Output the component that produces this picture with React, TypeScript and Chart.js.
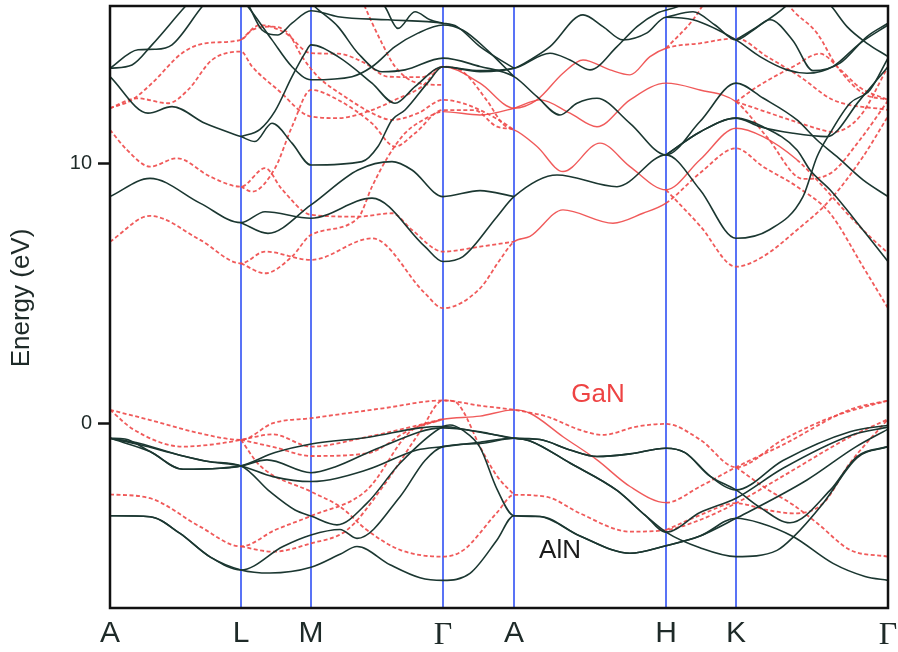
import React, { useEffect, useRef } from 'react';
import { Chart, registerables } from 'chart.js';

Chart.register(...registerables);

// High-symmetry points along the k-path (path length units)
const K_POS = [0, 131, 201, 333, 404, 556, 626, 778];
const K_LABELS = ['A', 'L', 'M', 'Γ', 'A', 'H', 'K', 'Γ'];
const Y_TICKS = [0, 10];
const Y_MIN = -7.06;
const Y_MAX = 16.03;
const Y_TITLE = 'Energy (eV)';

type P = [number, number];

// ---------- AlN (black, solid) ----------
const ALN_V1: P[] = [[0,-3.52],[40,-3.56],[70,-4.2],[100,-5.1],[131,-5.6],[160,-5.72],[201,-5.5],[230,-5.0],[247,-4.7],[280,-5.4],[310,-5.9],[333,-6.0],[360,-5.73],[387,-4.45],[404,-3.52],[430,-3.55],[470,-4.3],[520,-4.96],[556,-4.67],[590,-4.3],[626,-3.62],[650,-3.8],[683,-4.32],[723,-5.35],[755,-5.85],[778,-6.0]];
const ALN_V2: P[] = [[0,-3.52],[40,-3.56],[70,-4.2],[100,-5.1],[131,-5.6],[173,-4.7],[201,-4.26],[230,-4.05],[247,-4.39],[290,-2.79],[315,-1.4],[333,-0.87],[370,-0.75],[404,-0.55],[430,-0.6],[460,-1.0],[487,-1.25],[520,-1.15],[556,-0.93],[575,-1.1],[600,-2.0],[626,-2.53],[650,-3.2],[680,-3.79],[720,-2.55],[747,-1.25],[778,-0.87]];
const ALN_V3: P[] = [[0,-0.55],[15,-0.58],[40,-1.06],[73,-1.74],[110,-1.7],[131,-1.61],[165,-1.1],[201,-0.77],[260,-0.5],[310,-0.15],[333,-0.1],[360,-0.25],[404,-0.55],[420,-0.65],[460,-1.5],[507,-2.55],[535,-3.5],[556,-4.15],[590,-4.75],[626,-5.09],[667,-4.85],[683,-4.35],[713,-3.05],[747,-1.3],[778,-0.87]];
const ALN_V4: P[] = [[0,-0.55],[30,-0.75],[70,-1.2],[100,-1.45],[131,-1.61],[160,-2.6],[185,-3.3],[201,-3.53],[227,-3.87],[257,-3.04],[290,-1.51],[333,-0.1],[340,-0.04],[353,-0.25],[370,-0.9],[387,-2.5],[404,-3.52],[430,-3.55],[470,-4.3],[520,-4.96],[556,-4.67],[590,-4.3],[626,-3.62],[697,-2.15],[745,-0.9],[778,-0.2]];
const ALN_V5: P[] = [[0,-0.55],[40,-1.06],[73,-1.74],[110,-1.7],[131,-1.61],[157,-1.38],[201,-1.87],[225,-1.65],[270,-0.9],[333,-0.15],[370,-0.3],[404,-0.55],[430,-0.6],[460,-1.0],[487,-1.25],[520,-1.15],[556,-0.93],[575,-1.1],[600,-2.0],[626,-2.53],[673,-1.4],[740,-0.3],[778,-0.05]];
const ALN_V6: P[] = [[0,-0.55],[30,-0.8],[70,-1.2],[100,-1.45],[131,-1.61],[163,-2.02],[201,-2.21],[257,-1.76],[307,-1.0],[333,-0.87],[370,-0.7],[404,-0.55],[420,-0.65],[460,-1.5],[507,-2.55],[535,-3.5],[556,-4.15],[590,-3.4],[626,-2.85],[673,-1.7],[740,-0.45],[778,-0.12]];

const ALN_C1: P[] = [[0,8.72],[40,9.42],[90,8.47],[131,7.72],[155,8.14],[201,7.89],[262,8.66],[315,6.8],[333,6.23],[353,6.42],[387,7.95],[404,8.72],[447,9.55],[507,9.1],[556,10.32],[590,8.98],[626,7.12],[659,7.44],[693,8.72],[707,10.25],[720,11.15],[740,12.3],[760,12.81],[778,14.03]];
const ALN_C2: P[] = [[131,7.72],[158,7.31],[201,8.4],[248,9.74],[282,10.06],[302,9.74],[333,8.72],[370,8.95],[404,8.72]];
const ALN_C3: P[] = [[180,17.0],[205,16.0],[228,15.24],[248,14.22],[272,13.51],[295,13.58],[333,14.03],[370,13.71],[404,13.32],[427,12.55],[450,11.85],[467,12.3],[487,12.49],[520,11.53],[556,10.32],[590,11.6],[626,13.07],[653,12.5],[687,11.66],[707,10.89],[727,10.25],[753,9.36],[778,8.72]];
const ALN_C4: P[] = [[0,13.32],[38,11.92],[62,12.17],[95,11.53],[131,11.02],[145,10.83],[162,11.53],[182,10.77],[201,9.93],[252,10.06],[268,10.64],[282,11.66],[295,12.04],[318,13.1],[333,13.7],[370,13.55],[404,13.64],[440,14.22],[460,13.96],[480,13.58],[507,14.47],[527,15.24],[547,15.75],[570,16.05],[590,16.6]];
const ALN_C5: P[] = [[131,11.02],[150,11.3],[165,12.0],[182,13.32],[195,14.22],[201,14.54],[228,14.09],[262,13.07],[285,12.3],[305,12.94],[333,13.7],[370,13.51],[404,13.64],[420,13.96],[440,14.47],[473,15.69],[493,15.24],[513,14.73],[537,15.0],[556,15.6],[583,15.5],[626,14.73],[650,14.09],[677,13.58],[697,13.45],[723,13.71],[750,14.6],[778,15.3]];
const ALN_C6: P[] = [[0,13.64],[22,13.77],[42,14.54],[75,16.0],[105,17.2],[135,16.3],[152,15.11],[168,14.92],[182,15.37],[201,15.85],[228,15.62],[278,15.5],[333,15.37],[347,15.24],[370,14.47],[404,13.64]];
const ALN_C7: P[] = [[0,13.64],[28,14.35],[45,14.37],[62,14.54],[92,16.0],[115,17.0],[138,16.0],[162,14.73],[182,13.7],[201,13.2],[242,13.32],[262,13.7],[285,14.47],[308,14.99],[333,15.3],[353,15.1],[377,14.35],[404,13.32]];
const ALN_C8: P[] = [[556,15.6],[583,15.81],[605,15.3],[626,14.73],[643,15.1],[660,15.5],[683,14.7],[703,13.55],[730,13.84],[757,14.86],[778,15.37]];
const ALN_C9: P[] = [[556,10.32],[590,11.2],[626,11.73],[650,11.4],[683,11.15],[717,11.02],[750,12.43],[778,13.7]];
const ALN_C10: P[] = [[700,17.0],[723,15.94],[737,15.24],[757,14.6],[778,14.09]];
const ALN_C11: P[] = [[262,16.6],[275,16.0],[288,15.17],[305,15.81],[320,15.5],[333,15.37]];
const ALN_C12: P[] = [[626,14.73],[650,15.3],[675,16.0],[690,16.6]];
const ALN_C13: P[] = [[556,10.32],[590,11.2],[626,11.73],[653,11.4],[687,10.51],[700,9.74],[720,8.98],[753,7.44],[778,6.23]];

// ---------- GaN (red, mostly dashed) ----------
const GAN_V1: P[] = [[0,0.54],[40,0.15],[90,-0.36],[131,-0.61],[163,0.03],[201,0.22],[273,0.6],[333,0.9],[370,0.7],[404,0.54],[437,0.28],[470,-0.23],[493,-0.42],[527,-0.1],[556,0.0],[590,-0.6],[626,-1.66],[673,-0.6],[723,0.28],[778,0.9]];
const GAN_V2: P[] = [[0,0.54],[23,-0.2],[73,-0.87],[110,-0.75],[131,-0.61],[163,-0.4],[201,-0.87],[257,-0.5],[303,-0.1],[333,0.18],[370,0.3],[404,0.54],[420,0.41],[453,-0.49],[487,-1.38],[520,-2.4],[556,-3.02],[590,-2.4],[626,-1.66],[673,-0.8],[740,0.55],[778,0.9]];
const GAN_V3: P[] = [[131,-0.61],[165,-0.9],[201,-1.23],[257,-1.13],[300,-0.23],[333,0.18]];
const GAN_V4: P[] = [[131,-0.61],[150,-1.6],[201,-2.6],[230,-3.17],[257,-4.07],[290,-4.83],[333,-5.09],[353,-4.85],[387,-3.4],[404,-2.72],[437,-2.8],[470,-3.43],[520,-4.13],[556,-4.07],[590,-3.68],[626,-3.04],[673,-2.0],[740,-0.5],[778,0.18]];
const GAN_V5: P[] = [[0,-2.7],[40,-2.85],[90,-3.94],[131,-4.7],[165,-4.07],[201,-3.53],[257,-2.53],[300,-0.3],[333,0.18]];
const GAN_V6: P[] = [[131,-4.7],[163,-4.9],[201,-4.58],[237,-4.07],[273,-2.4],[310,-0.3],[333,0.9],[345,0.85],[353,0.5],[370,-0.87],[387,-2.0],[404,-2.72]];
const GAN_V7: P[] = [[626,-1.66],[657,-2.5],[683,-3.1],[707,-3.8],[740,-4.83],[778,-5.09]];
const GAN_V8: P[] = [[556,-4.07],[590,-3.5],[626,-3.04],[657,-3.3],[683,-3.43],[713,-3.05],[740,-1.5],[778,0.18]];

const GAN_C1: P[] = [[0,6.99],[40,7.98],[90,7.06],[131,6.16],[155,6.61],[201,6.29],[262,7.12],[315,5.01],[333,4.44],[370,5.2],[390,6.3],[404,6.99],[420,7.19],[453,8.21],[503,7.7],[533,8.08],[556,8.47],[590,9.62],[626,10.57],[653,9.87],[687,9.1],[720,8.08],[753,6.03],[778,4.44]];
const GAN_C2: P[] = [[131,6.16],[155,5.78],[182,6.42],[201,7.25],[248,7.9],[262,9.1],[278,10.25],[295,11.15],[315,11.7],[333,11.98],[370,11.85],[404,12.11],[430,12.43],[460,11.92],[487,11.4],[520,12.43],[556,13.07],[590,12.81],[626,12.36],[657,11.0],[693,9.4],[720,9.6],[750,10.9],[778,12.4]];
const GAN_C3: P[] = [[0,11.28],[17,10.51],[40,9.87],[67,10.19],[100,9.49],[131,9.1],[155,9.81],[172,9.0],[201,8.02],[248,7.95],[282,8.08],[302,7.44],[333,6.61],[370,6.8],[404,6.99]];
const GAN_C3B: P[] = [[556,8.98],[590,7.6],[626,6.03],[653,6.42],[687,7.44],[720,8.59],[753,10.25],[778,11.8]];
const GAN_C4: P[] = [[131,9.1],[142,8.91],[165,9.81],[182,11.4],[201,12.81],[228,12.43],[262,11.53],[285,10.64],[305,11.15],[333,12.04],[364,12.04],[387,11.4],[404,11.28],[427,10.64],[453,9.68],[490,10.77],[520,9.87],[556,8.98],[590,10.13],[626,11.34],[653,11.02],[687,10.13],[710,9.23],[737,8.08],[760,7.18],[778,6.55]];
const GAN_C5: P[] = [[0,12.11],[27,12.49],[58,12.3],[78,12.81],[102,13.96],[131,14.28],[142,13.71],[168,12.81],[201,11.79],[228,11.73],[262,12.04],[285,12.43],[312,12.94],[333,13.7],[370,13.07],[404,12.11],[427,12.43],[453,13.45],[473,13.96],[500,13.58],[520,13.39],[540,14.09],[556,14.41],[590,14.6],[626,14.79],[657,14.09],[690,13.32],[723,12.43],[778,12.04]];
const GAN_C6: P[] = [[0,12.11],[22,12.43],[42,13.07],[72,14.22],[95,14.6],[131,14.73],[142,15.11],[162,15.24],[178,14.99],[192,14.09],[208,13.32],[235,12.55],[262,11.92],[282,11.66],[308,11.92],[333,12.43],[353,12.3],[387,11.7],[404,11.28]];
const GAN_C7: P[] = [[131,14.73],[150,15.3],[175,15.0],[201,14.22],[228,14.2],[255,13.84],[278,13.32],[312,13.3],[333,13.7],[353,13.5],[377,12.4],[393,11.5],[404,11.28]];
const GAN_C8: P[] = [[245,17.0],[255,16.0],[272,14.6],[285,13.71],[308,13.07],[333,13.0]];
const GAN_C9: P[] = [[626,12.36],[650,13.0],[683,13.7],[710,14.2],[730,13.6],[750,12.9],[778,12.43]];
const GAN_C10: P[] = [[665,17.0],[680,16.0],[707,14.99],[727,13.71],[753,12.68],[778,12.43]];
const GAN_C11: P[] = [[556,14.41],[583,15.5],[600,16.5]];
const GAN_C12: P[] = [[626,12.36],[677,11.7],[710,11.3],[723,11.2],[750,11.8],[778,13.7]];

const ALN_BANDS = [ALN_V1, ALN_V2, ALN_V3, ALN_V4, ALN_V5, ALN_V6, ALN_C1, ALN_C2, ALN_C3, ALN_C4, ALN_C5, ALN_C6, ALN_C7, ALN_C8, ALN_C9, ALN_C10, ALN_C11, ALN_C12, ALN_C13];
const GAN_BANDS = [GAN_V1, GAN_V2, GAN_V3, GAN_V4, GAN_V5, GAN_V6, GAN_V7, GAN_V8, GAN_C1, GAN_C2, GAN_C3, GAN_C3B, GAN_C4, GAN_C5, GAN_C6, GAN_C7, GAN_C8, GAN_C9, GAN_C10, GAN_C11, GAN_C12];
// k-range drawn as a solid red line for each GaN band (null = all dashed)
const GAN_SOLID: ([number, number] | null)[] = [null, [333, 556], null, null, null, null, null, null, [404, 556], [333, 626], null, null, [404, 700], [333, 556], null, null, null, null, null, null, null];

const LABEL_TEXT = ['GaN', 'AlN'];
const LABEL_K = [488, 450];
const LABEL_E = [1.11, -4.87];
const LABEL_COLOR = ['#ee4343', '#1b1b1b'];

const BLACK = '#1b3731';
const RED = 'rgba(238,72,72,0.9)';
const BLUE = 'rgba(60,90,245,0.85)';
const DASH = [4, 2.5];

const overlayPlugin = {
  id: 'bandOverlay',
  beforeDatasetsDraw(chart: any) {
    const { ctx, chartArea, scales } = chart;
    ctx.save();
    ctx.strokeStyle = BLUE;
    ctx.lineWidth = 2;
    K_POS.slice(1, -1).forEach((k) => {
      const px = scales.x.getPixelForValue(k);
      ctx.beginPath();
      ctx.moveTo(px, chartArea.top);
      ctx.lineTo(px, chartArea.bottom);
      ctx.stroke();
    });
    ctx.restore();
  },
  afterDatasetsDraw(chart: any) {
    const { ctx, chartArea, scales } = chart;
    ctx.save();
    ctx.strokeStyle = '#111';
    ctx.lineWidth = 2.5;
    ctx.strokeRect(chartArea.left, chartArea.top, chartArea.right - chartArea.left, chartArea.bottom - chartArea.top);
    ctx.font = '26px "Liberation Sans", Arial, sans-serif';
    ctx.textAlign = 'center';
    ctx.textBaseline = 'middle';
    LABEL_TEXT.forEach((t, i) => {
      ctx.fillStyle = LABEL_COLOR[i];
      ctx.fillText(t, scales.x.getPixelForValue(LABEL_K[i]), scales.y.getPixelForValue(LABEL_E[i]));
    });
    // y-axis title
    ctx.translate(22, 298);
    ctx.rotate(-Math.PI / 2);
    ctx.fillStyle = '#1e2a28';
    ctx.font = '26px "Liberation Sans", Arial, sans-serif';
    ctx.fillText(Y_TITLE, 0, 0);
    ctx.restore();
  },
};

export default function App() {
  const ref = useRef<HTMLCanvasElement | null>(null);
  useEffect(() => {
    document.body.style.margin = '0';
    const canvas = ref.current;
    if (!canvas) return;
    const toXY = (b: P[]) => b.map(([x, y]) => ({ x, y }));
    const datasets: any[] = [];
    ALN_BANDS.forEach((b) => {
      datasets.push({
        data: toXY(b),
        borderColor: BLACK,
        borderWidth: 1.6,
        pointRadius: 0,
        fill: false,
        cubicInterpolationMode: 'monotone',
      });
    });
    GAN_BANDS.forEach((b, i) => {
      const sr = GAN_SOLID[i];
      const inSolid = (c: any) => !!sr && c.p0.parsed.x >= sr[0] - 0.1 && c.p1.parsed.x <= sr[1] + 0.1;
      datasets.push({
        data: toXY(b),
        borderColor: RED,
        borderWidth: 1.8,
        borderDash: sr ? undefined : DASH,
        pointRadius: 0,
        fill: false,
        cubicInterpolationMode: 'monotone',
        segment: sr
          ? {
              borderDash: (c: any) => (inSolid(c) ? [] : DASH),
              borderWidth: (c: any) => (inSolid(c) ? 1.4 : 1.8),
            }
          : undefined,
      });
    });
    const zeroPad = (s: any) => {
      s.paddingTop = 0;
      s.paddingBottom = 0;
      s.paddingLeft = 0;
      s.paddingRight = 0;
    };
    const chart = new Chart(canvas, {
      type: 'line',
      data: { datasets },
      options: {
        animation: false,
        responsive: false,
        devicePixelRatio: 1,
        events: [],
        layout: { padding: { top: 6, right: 10, left: 0, bottom: 0 }, autoPadding: false } as any,
        plugins: { legend: { display: false }, tooltip: { enabled: false } },
        scales: {
          x: {
            type: 'linear',
            min: 0,
            max: K_POS[K_POS.length - 1],
            afterBuildTicks: (s: any) => {
              s.ticks = K_POS.map((v) => ({ value: v }));
            },
            afterFit: (s: any) => {
              s.height = 44;
              zeroPad(s);
            },
            grid: { display: false, drawTicks: false },
            border: { display: false },
            ticks: {
              autoSkip: false,
              maxRotation: 0,
              padding: 8,
              color: '#1e2a28',
              callback: (_v: any, i: number) => K_LABELS[i],
              font: (c: any) =>
                K_LABELS[c.index] === 'Γ'
                  ? { family: '"Liberation Serif", "DejaVu Serif", serif', size: 32 }
                  : { family: '"Liberation Sans", Arial, sans-serif', size: 30 },
            },
          },
          y: {
            type: 'linear',
            min: Y_MIN,
            max: Y_MAX,
            afterBuildTicks: (s: any) => {
              s.ticks = Y_TICKS.map((v) => ({ value: v }));
            },
            afterFit: (s: any) => {
              s.width = 110;
              zeroPad(s);
            },
            grid: { display: true, drawOnChartArea: false, drawTicks: true, tickLength: 12, tickWidth: 2.5, tickColor: '#111' },
            border: { display: false },
            ticks: {
              padding: 6,
              color: '#1e2a28',
              font: { family: '"Liberation Sans", Arial, sans-serif', size: 20 },
            },
            title: { display: false },
          },
        },
      },
      plugins: [overlayPlugin],
    } as any);
    return () => chart.destroy();
  }, []);
  return (
    <div style={{ width: 898, height: 652 }}>
      <canvas ref={ref} width={898} height={652} style={{ display: 'block', width: 898, height: 652 }} />
    </div>
  );
}
